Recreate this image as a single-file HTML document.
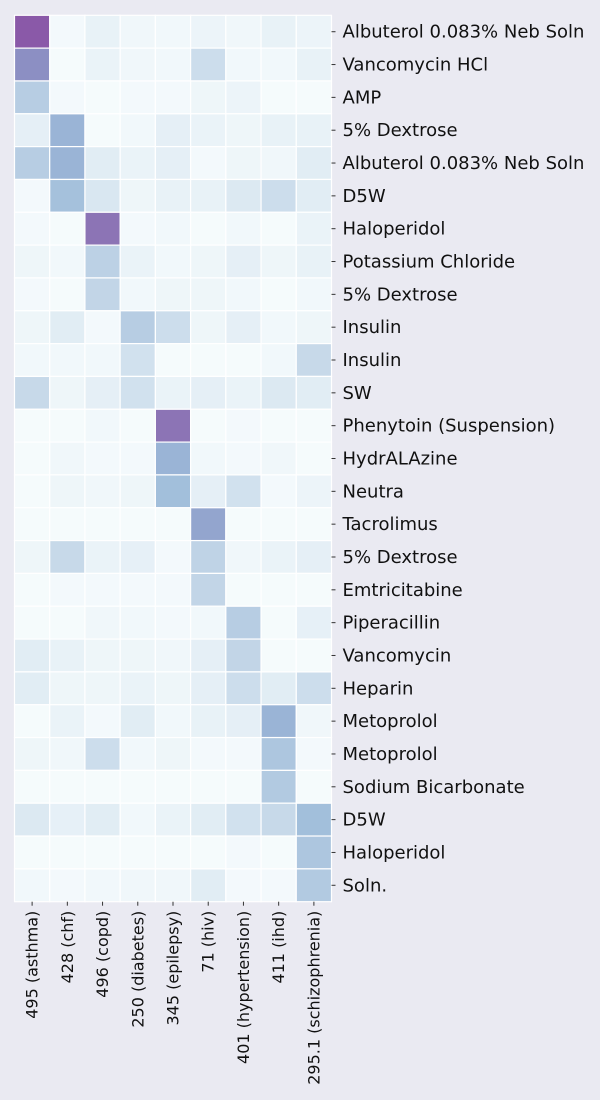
<!DOCTYPE html>
<html><head><meta charset="utf-8">
<style>
html,body{margin:0;padding:0;background:#eaeaf2;}
svg{display:block;font-family:"DejaVu Sans","Liberation Sans",sans-serif;}
</style></head>
<body>
<svg id="chart" width="600" height="1100" xmlns="http://www.w3.org/2000/svg">
<rect width="600" height="1100" fill="#eaeaf2"/>
<g id="cells"></g>
<g id="rlabels"></g>
<g id="clabels"></g>
</svg>
<script>
const rowLabels = ["Albuterol 0.083% Neb Soln","Vancomycin HCl","AMP","5% Dextrose","Albuterol 0.083% Neb Soln","D5W","Haloperidol","Potassium Chloride","5% Dextrose","Insulin","Insulin","SW","Phenytoin (Suspension)","HydrALAzine","Neutra","Tacrolimus","5% Dextrose","Emtricitabine","Piperacillin","Vancomycin","Heparin","Metoprolol","Metoprolol","Sodium Bicarbonate","D5W","Haloperidol","Soln."];
const colLabels = ["495 (asthma)","428 (chf)","496 (copd)","250 (diabetes)","345 (epilepsy)","71 (hiv)","401 (hypertension)","411 (ihd)","295.1 (schizophrenia)"];
const values = [
[0.68,0.02,0.08,0.04,0.03,0.06,0.04,0.08,0.06],
[0.52,0.01,0.07,0.04,0.03,0.20,0.03,0.03,0.08],
[0.28,0.02,0.01,0.02,0.02,0.05,0.06,0.01,0.01],
[0.10,0.40,0.01,0.03,0.10,0.07,0.05,0.08,0.08],
[0.28,0.40,0.12,0.07,0.10,0.02,0.05,0.04,0.12],
[0.02,0.35,0.15,0.05,0.08,0.08,0.14,0.20,0.12],
[0.02,0.01,0.60,0.02,0.03,0.01,0.03,0.01,0.07],
[0.05,0.03,0.26,0.07,0.03,0.05,0.10,0.05,0.08],
[0.02,0.01,0.24,0.03,0.05,0.05,0.03,0.01,0.03],
[0.05,0.12,0.02,0.28,0.20,0.05,0.10,0.03,0.05],
[0.03,0.03,0.03,0.18,0.01,0.01,0.01,0.03,0.22],
[0.22,0.05,0.10,0.18,0.07,0.10,0.07,0.14,0.12],
[0.01,0.01,0.03,0.01,0.60,0.01,0.02,0.01,0.01],
[0.01,0.04,0.02,0.02,0.40,0.03,0.02,0.04,0.01],
[0.01,0.05,0.04,0.05,0.36,0.10,0.18,0.02,0.06],
[0.01,0.01,0.01,0.01,0.01,0.45,0.01,0.01,0.01],
[0.05,0.22,0.07,0.09,0.02,0.25,0.04,0.07,0.10],
[0.01,0.02,0.02,0.02,0.02,0.24,0.01,0.01,0.01],
[0.01,0.01,0.04,0.03,0.02,0.03,0.28,0.01,0.09],
[0.12,0.08,0.05,0.05,0.04,0.10,0.24,0.01,0.01],
[0.12,0.05,0.05,0.07,0.05,0.10,0.20,0.12,0.20],
[0.01,0.07,0.02,0.12,0.03,0.08,0.10,0.40,0.04],
[0.05,0.04,0.20,0.03,0.05,0.02,0.02,0.32,0.02],
[0.01,0.01,0.01,0.01,0.01,0.01,0.01,0.30,0.01],
[0.14,0.09,0.12,0.03,0.07,0.12,0.18,0.22,0.36],
[0.01,0.01,0.01,0.01,0.01,0.01,0.02,0.01,0.32],
[0.03,0.02,0.03,0.04,0.04,0.12,0.02,0.02,0.30]
];
const stops=["#f7fcfd","#e0ecf4","#bfd3e6","#9ebcda","#8c96c6","#8c6bb1","#88419d","#810f7c","#4d004b"];
function hex(h){return [1,3,5].map(i=>parseInt(h.substr(i,2),16));}
function cmap(v){v=Math.max(0,Math.min(1,v));const p=v*(stops.length-1);const i=Math.min(Math.floor(p),stops.length-2);const t=p-i;const a=hex(stops[i]),b=hex(stops[i+1]);return "rgb("+a.map((x,k)=>Math.round(x+(b[k]-x)*t)).join(",")+")";}
const L=14.5,R=331.5,T=15.3,B=901.7;
const cw=(R-L)/colLabels.length, rh=(B-T)/rowLabels.length;
const xPos=j=>L+j*cw, yPos=i=>T+i*rh;
const NS="http://www.w3.org/2000/svg";
const cells=document.getElementById('cells'),rl=document.getElementById('rlabels'),cl=document.getElementById('clabels');
values.forEach((row,i)=>row.forEach((v,j)=>{
  const r=document.createElementNS(NS,'rect');
  r.setAttribute('x',xPos(j));r.setAttribute('y',yPos(i));
  r.setAttribute('width',cw);r.setAttribute('height',rh);
  r.setAttribute('fill',cmap(v));r.setAttribute('stroke','#ffffff');r.setAttribute('stroke-width','1.2');
  
  
  cells.appendChild(r);
}));
rowLabels.forEach((lab,i)=>{
  const y=yPos(i)+rh/2;
  const tk=document.createElementNS(NS,'line');
  tk.setAttribute('x1',R);tk.setAttribute('x2',R+4);tk.setAttribute('y1',y);tk.setAttribute('y2',y);
  tk.setAttribute('stroke','#333');tk.setAttribute('stroke-width','1');
  
  
  rl.appendChild(tk);
  const t=document.createElementNS(NS,'text');
  t.setAttribute('x',R+11);t.setAttribute('y',y+6);t.setAttribute('font-size','18');t.setAttribute('fill','#111');
  t.textContent=lab;
  
  
  rl.appendChild(t);
});
colLabels.forEach((lab,j)=>{
  const x=xPos(j)+cw/2;
  const tk=document.createElementNS(NS,'line');
  tk.setAttribute('x1',x);tk.setAttribute('x2',x);tk.setAttribute('y1',B);tk.setAttribute('y2',B+4);
  tk.setAttribute('stroke','#333');tk.setAttribute('stroke-width','1');
  
  
  cl.appendChild(tk);
  const t=document.createElementNS(NS,'text');
  t.setAttribute('transform','translate('+(x+5.5)+','+(B+9)+') rotate(-90)');
  t.setAttribute('text-anchor','end');t.setAttribute('font-size','16');t.setAttribute('fill','#111');
  t.textContent=lab;
  
  
  cl.appendChild(t);
});
</script>
</body></html>
